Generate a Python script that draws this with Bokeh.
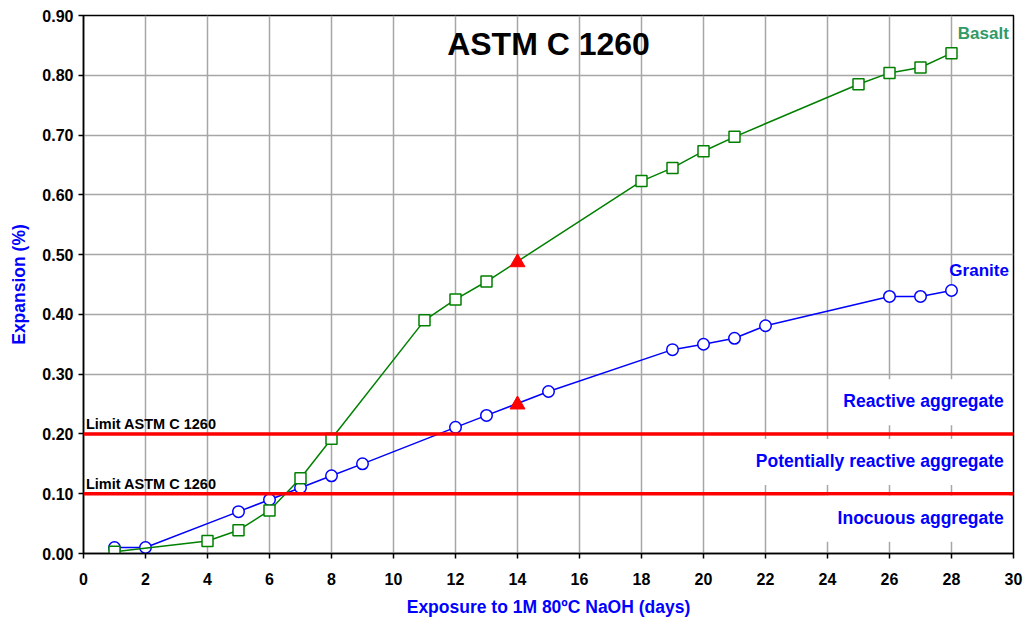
from bokeh.plotting import figure
from bokeh.models import Span, Label, FixedTicker, Range1d
from bokeh.embed import file_html
from bokeh.resources import INLINE

# ---- data ----
granite_days = [1, 2, 5, 6, 7, 8, 9, 12, 13, 15, 19, 20, 21, 22, 26, 27, 28]
granite_exp = [0.010, 0.010, 0.070, 0.090, 0.110, 0.130, 0.150, 0.211, 0.231, 0.271,
               0.341, 0.350, 0.360, 0.381, 0.430, 0.430, 0.440]
basalt_days = [1, 4, 5, 6, 7, 8, 11, 12, 13, 18, 19, 20, 21, 25, 26, 27, 28]
basalt_exp = [0.003, 0.021, 0.039, 0.072, 0.126, 0.192, 0.390, 0.425, 0.455, 0.623,
              0.645, 0.673, 0.697, 0.785, 0.804, 0.813, 0.837]
day14_days = [14, 14]
day14_exp = [0.249, 0.487]
limits = [0.20, 0.10]
x_ticks = list(range(0, 31, 2))
y_ticks = [0.0, 0.1, 0.2, 0.3, 0.4, 0.5, 0.6, 0.7, 0.8, 0.9]
y_tick_labels = ["%.2f" % v for v in y_ticks]
regions = ["Reactive aggregate", "Potentially reactive aggregate", "Inocuous aggregate"]
region_y = [0.253, 0.153, 0.058]

FONT = "Liberation Sans"
BLUE = "#0000ff"
GREEN = "#008000"
GREEN_TXT = "#339966"

p = figure(width=1024, height=619, output_backend="svg", toolbar_location=None,
           x_range=Range1d(0, 30), y_range=Range1d(0, 0.9),
           min_border_left=83, min_border_right=11, min_border_top=15, min_border_bottom=60)
p.background_fill_color = "white"
p.outline_line_color = "black"
p.outline_line_width = 1.5

for ax in (p.xaxis[0], p.yaxis[0]):
    ax.axis_line_color = "black"
    ax.axis_line_width = 1.5
    ax.major_tick_line_color = "black"
    ax.major_tick_line_width = 1.5
    ax.minor_tick_line_color = None
    ax.major_tick_in = 0
    ax.major_tick_out = 5
    ax.major_label_text_font = FONT
    ax.major_label_text_font_style = "bold"
    ax.major_label_text_font_size = "16px"
    ax.major_label_text_color = "black"
    ax.axis_label_text_font = FONT
    ax.axis_label_text_font_style = "bold"
    ax.axis_label_text_font_size = "17.5px"
    ax.axis_label_text_color = BLUE

p.xaxis.ticker = FixedTicker(ticks=x_ticks)
p.yaxis.ticker = FixedTicker(ticks=y_ticks)
p.yaxis.major_label_overrides = {v: s for v, s in zip(y_ticks, y_tick_labels)}
p.xaxis.axis_label = "Exposure to 1M 80ºC NaOH (days)"
p.yaxis.axis_label = "Expansion (%)"
p.xaxis.major_label_standoff = 14
p.yaxis.major_label_standoff = 5
p.xaxis.axis_label_standoff = 9
p.yaxis.axis_label_standoff = 10

p.grid.grid_line_color = "#a6a6a6"
p.grid.grid_line_width = 1.5
p.xgrid.ticker = FixedTicker(ticks=x_ticks)
p.ygrid.ticker = FixedTicker(ticks=y_ticks)

# limit lines
for lv in limits:
    p.add_layout(Span(location=lv, dimension="width", line_color="red", line_width=3.5))
    p.add_layout(Label(x=0.08, y=lv, text="Limit ASTM C 1260", text_font=FONT,
                       text_font_style="bold", text_font_size="14.5px", text_color="black",
                       text_baseline="bottom", y_offset=2))

# region labels with white boxes
for txt, yv in zip(regions, region_y):
    p.add_layout(Label(x=29.85, y=yv, text=txt, text_font=FONT, text_font_style="bold",
                       text_font_size="17.5px", text_color=BLUE, text_align="right",
                       text_baseline="middle", background_fill_color="white",
                       padding=(12, 5, 12, 14)))

# series
p.line(granite_days, granite_exp, line_color=BLUE, line_width=1.5)
p.scatter(granite_days, granite_exp, marker="circle", size=11.5, line_color=BLUE,
          line_width=1.5, fill_color="white")
p.line(basalt_days, basalt_exp, line_color=GREEN, line_width=1.5)
p.scatter(basalt_days, basalt_exp, marker="square", size=11, line_color=GREEN,
          line_width=1.5, fill_color="white")
p.scatter(day14_days, day14_exp, marker="triangle", size=15, line_color="red",
          fill_color="red")

# labels
p.add_layout(Label(x=15, y=0.853, text="ASTM C 1260", text_font=FONT, text_font_style="bold",
                   text_font_size="32px", text_color="black", text_align="center",
                   text_baseline="middle"))
p.add_layout(Label(x=29.85, y=0.87, text="Basalt", text_font=FONT, text_font_style="bold",
                   text_font_size="17px", text_color=GREEN_TXT, text_align="right",
                   text_baseline="middle"))
p.add_layout(Label(x=29.85, y=0.473, text="Granite", text_font=FONT, text_font_style="bold",
                   text_font_size="17px", text_color=BLUE, text_align="right",
                   text_baseline="middle"))

open("out.html", "w").write(file_html(p, INLINE))
